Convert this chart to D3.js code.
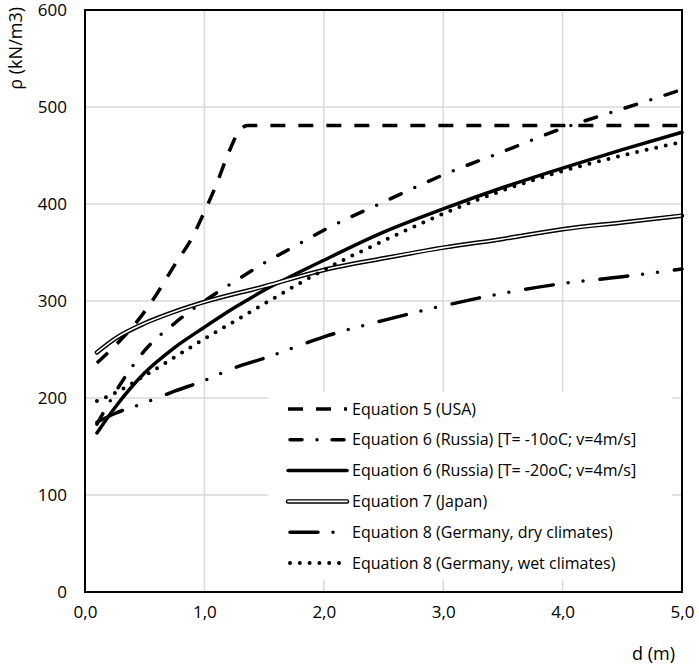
<!DOCTYPE html>
<html lang="en">
<head>
	<meta charset="UTF-8">
	<title>Snow load vs depth</title>
	<script src="https://cdn.jsdelivr.net/npm/d3@7"></script>
	<style>
	*{margin:0; padding:0;}
	body{background:#fff;}
	text{font-family:"Open Sans", "Liberation Sans", sans-serif; fill:#000;}
	.grid line{stroke:#d9d9d9; stroke-width:1.5;}
	</style>
</head>
<body>
<script>
var width = 699;
var height = 667;

// tick labels
var xTicks = [0, 1, 2, 3, 4, 5];
var xTickLabels = ["0,0", "1,0", "2,0", "3,0", "4,0", "5,0"];
var yTicks = [0, 100, 200, 300, 400, 500, 600];

// series (d in m, p in kN/m3)
var usaD = [0.1, 0.3, 0.45, 0.6, 0.75, 0.9, 1.0, 1.1, 1.2, 1.28, 1.36, 5.0];
var usaP = [236, 260, 281, 307, 337, 366, 392, 420, 452, 473, 481, 481];

var russia10D = [0.1, 0.3, 0.5, 0.75, 1.0, 1.25, 1.5, 1.75, 2.0, 2.5, 3.0, 3.5, 4.0, 4.5, 5.0];
var russia10P = [173, 215, 249, 277, 300, 320, 339, 356, 373, 402, 430, 454, 478, 498, 518];

var russia20D = [0.1, 0.25, 0.5, 0.75, 1.0, 1.25, 1.5, 2.0, 2.5, 3.0, 3.5, 4.0, 4.5, 5.0];
var russia20P = [164, 190, 226, 252, 273, 293, 311, 342, 371, 395, 417, 437, 456, 474];

var japanD = [0.1, 0.25, 0.5, 0.75, 1.0, 1.5, 2.0, 2.5, 3.0, 3.5, 4.0, 4.5, 5.0];
var japanP = [247, 261, 277, 289, 299, 315, 332, 344, 355, 364, 374, 381, 388];

var dryD = [0.1, 0.25, 0.5, 0.75, 1.0, 1.25, 1.5, 1.75, 2.0, 2.5, 3.0, 3.5, 4.0, 4.5, 5.0];
var dryP = [175, 184, 195, 207, 218, 231, 241, 252, 263, 280, 295, 308, 318, 325, 333];

var wetD = [0.1, 0.25, 0.5, 0.75, 1.0, 1.25, 1.5, 1.75, 2.0, 2.5, 3.0, 3.5, 4.0, 4.5, 5.0];
var wetP = [197, 205, 223, 242, 261, 279, 297, 315, 332, 362, 390, 414, 434, 450, 464];

var seriesNames = [
	"Equation 5 (USA)",
	"Equation 6 (Russia) [T= -10oC; v=4m/s]",
	"Equation 6 (Russia) [T= -20oC; v=4m/s]",
	"Equation 7 (Japan)",
	"Equation 8 (Germany, dry climates)",
	"Equation 8 (Germany, wet climates)"
];

function zip(ds, ps){
	return ds.map(function(d, i){ return {d:d, p:ps[i]}; });
}

var series = [
	{name:seriesNames[0], values:zip(usaD, usaP), style:"dash"},
	{name:seriesNames[1], values:zip(russia10D, russia10P), style:"dashdot"},
	{name:seriesNames[2], values:zip(russia20D, russia20P), style:"solid"},
	{name:seriesNames[3], values:zip(japanD, japanP), style:"double"},
	{name:seriesNames[4], values:zip(dryD, dryP), style:"longdashdot"},
	{name:seriesNames[5], values:zip(wetD, wetP), style:"dot"}
];

var styles = {
	dash:        {width:3.5, dash:"15,13", cap:"butt"},
	dashdot:     {width:3.5, dash:"12,15,0,15", cap:"round"},
	solid:       {width:3.5, dash:null, cap:"round"},
	double:      {width:4.5, dash:null, cap:"round"},
	longdashdot: {width:3.5, dash:"28,15,0,15,0,17", cap:"round"},
	dot:         {width:4, dash:"0,9.8", cap:"round"}
};

// plot box (names avoid window.top etc.)
var pLeft = 85, pRight = 682, pTop = 10, pBottom = 592;

var x = d3.scaleLinear().domain([0, 5]).range([pLeft, pRight]);
var y = d3.scaleLinear().domain([0, 600]).range([pBottom, pTop]);

var svg = d3.select("body").append("svg")
	.attr("width", width)
	.attr("height", height);

// grid
var grid = svg.append("g").classed("grid", true);
grid.selectAll("line.gx")
	.data(xTicks.slice(1, -1))
	.enter().append("line")
	.attr("x1", function(d){ return x(d); })
	.attr("x2", function(d){ return x(d); })
	.attr("y1", pTop).attr("y2", pBottom);
grid.selectAll("line.gy")
	.data(yTicks.slice(1, -1))
	.enter().append("line")
	.attr("x1", pLeft).attr("x2", pRight)
	.attr("y1", function(d){ return y(d); })
	.attr("y2", function(d){ return y(d); });

// axes (labels only, frame drawn below)
var yAxis = svg.append("g")
	.attr("transform", "translate(" + (pLeft - 18) + ",0)")
	.call(d3.axisLeft(y).tickValues(yTicks).tickSize(0).tickPadding(0));
yAxis.select(".domain").remove();
yAxis.selectAll("text").style("font-size", "17px").attr("dy", "0.35em");

var xAxis = svg.append("g")
	.attr("transform", "translate(0," + (pBottom + 14) + ")")
	.call(d3.axisBottom(x).tickValues(xTicks).tickSize(0).tickPadding(0)
		.tickFormat(function(d, i){ return xTickLabels[i]; }));
xAxis.select(".domain").remove();
xAxis.selectAll("text").style("font-size", "17px");

// axis titles
svg.append("text")
	.attr("transform", "translate(22,7) rotate(-90)")
	.attr("text-anchor", "end")
	.style("font-size", "18px")
	.text("ρ (kN/m3)");
svg.append("text")
	.attr("x", 675).attr("y", 660)
	.attr("text-anchor", "end")
	.style("font-size", "18px")
	.text("d (m)");

// lines
var line = d3.line()
	.x(function(d){ return x(d.d); })
	.y(function(d){ return y(d.p); })
	.curve(d3.curveMonotoneX);

var lines = svg.append("g").classed("lines", true);
series.forEach(function(s){
	var st = styles[s.style];
	lines.append("path")
		.attr("d", line(s.values))
		.attr("fill", "none")
		.attr("stroke", "#000")
		.attr("stroke-width", st.width)
		.attr("stroke-linecap", st.cap)
		.attr("stroke-dasharray", st.dash);
	if(s.style === "double"){
		lines.append("path")
			.attr("d", line(s.values))
			.attr("fill", "none")
			.attr("stroke", "#fff")
			.attr("stroke-width", 1.6)
			.attr("stroke-linecap", "round");
	}
});

// frame
svg.append("rect")
	.attr("x", pLeft).attr("y", pTop)
	.attr("width", pRight - pLeft).attr("height", pBottom - pTop)
	.attr("fill", "none")
	.attr("stroke", "#000")
	.attr("stroke-width", 2);

// legend
var legend = svg.append("g").classed("legend", true);
legend.append("rect")
	.attr("x", 268).attr("y", 392)
	.attr("width", 404).attr("height", 188)
	.attr("fill", "#fff");

var rowY = d3.scalePoint().domain(seriesNames).range([409, 563]);

var rows = legend.selectAll("g.row")
	.data(series)
	.enter().append("g")
	.attr("transform", function(d){ return "translate(0," + rowY(d.name) + ")"; });

rows.each(function(s){
	var g = d3.select(this);
	var st = styles[s.style];
	var x1 = 288, x2 = 347;
	if(st.cap === "round" && st.dash){ x1 += 2; }
	g.append("line")
		.attr("x1", x1).attr("x2", x2)
		.attr("stroke", "#000")
		.attr("stroke-width", st.width)
		.attr("stroke-linecap", st.cap)
		.attr("stroke-dasharray", st.dash);
	if(s.style === "double"){
		g.append("line")
			.attr("x1", x1).attr("x2", x2)
			.attr("stroke", "#fff")
			.attr("stroke-width", 1.6)
			.attr("stroke-linecap", "round");
	}
	g.append("text")
		.attr("x", 352)
		.attr("dy", "0.35em")
		.style("font-size", "16px")
		.text(s.name);
});
</script>
</body>
</html>
